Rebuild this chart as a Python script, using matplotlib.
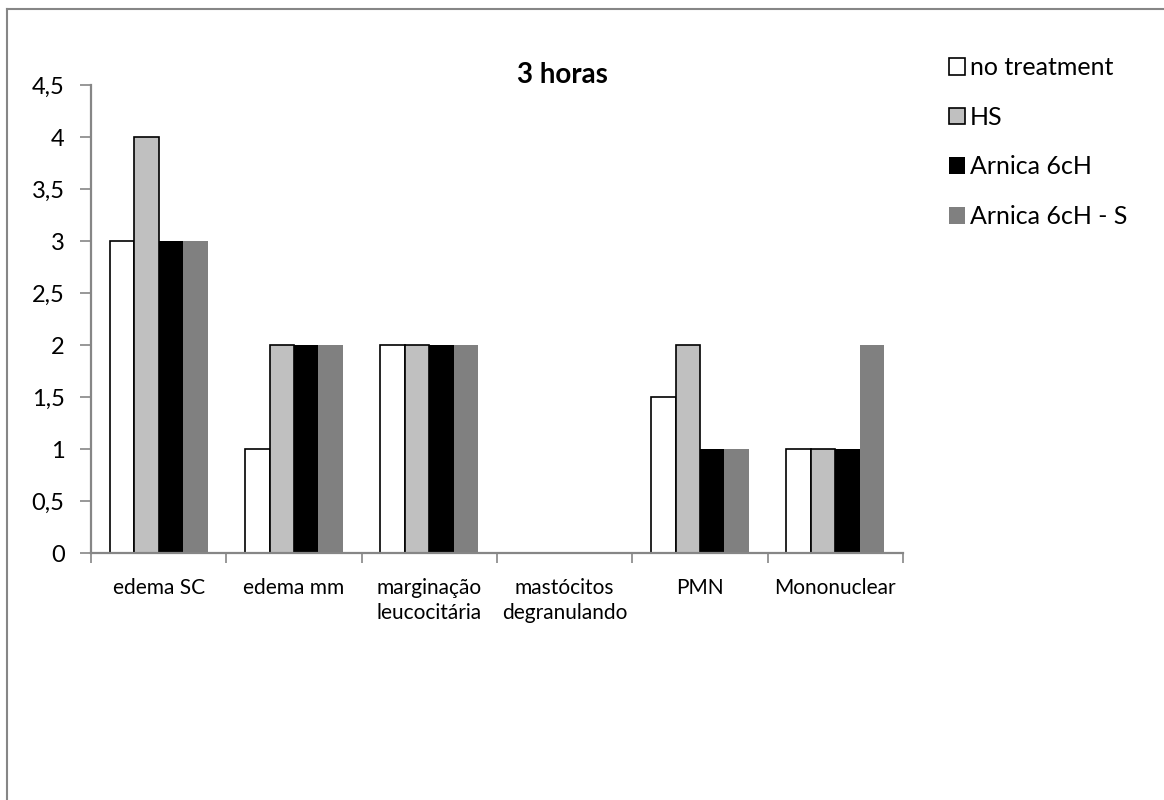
import numpy as np
import matplotlib.pyplot as plt
from matplotlib.lines import Line2D
from matplotlib.ticker import FuncFormatter

plt.rcParams['font.family'] = ['Lato', 'DejaVu Sans']

# ============================
# DADOS
# ============================
categorias = ["edema SC", "edema mm", "marginação\nleucocitária",
              "mastócitos\ndegranulando", "PMN", "Mononuclear"]
series = ["no treatment", "HS", "Arnica 6cH", "Arnica 6cH - S"]
no_treatment = [3, 1, 2, 0, 1.5, 1]
hs = [4, 2, 2, 0, 2, 1]
arnica = [3, 2, 2, 0, 1, 1]
arnica_s = [3, 2, 2, 0, 1, 2]
valores = [no_treatment, hs, arnica, arnica_s]

cores = ["#FFFFFF", "#C0C0C0", "#000000", "#808080"]
bordas = ["#000000", "#000000", "none", "none"]

# ============================
# FIGURA
# ============================
fig = plt.figure(figsize=(11.64, 8.0), dpi=100)
ax = fig.add_axes([91/1164, 1 - 553/800, (903 - 91)/1164, (553 - 85)/800])

x = np.arange(len(categorias))
w = 0.181
for i, (vals, c, b) in enumerate(zip(valores, cores, bordas)):
    ax.bar(x + (i - 1.5) * w, vals, width=w, color=c, edgecolor=b,
           linewidth=1.2, label=series[i], zorder=1)

ax.set_xlim(-0.5, len(categorias) - 0.5)
ax.set_ylim(0, 4.5)
ax.set_yticks(np.arange(0, 4.51, 0.5))
ax.yaxis.set_major_formatter(FuncFormatter(lambda v, p: f"{v:g}".replace(".", ",")))

ax.set_xticks(x)
ax.set_xticklabels(categorias, fontsize=15, linespacing=1.3)
ax.set_xticks(np.arange(-0.5, len(categorias)), minor=True)
ax.tick_params(axis='x', which='major', length=0, pad=18)
ax.tick_params(axis='x', which='minor', length=7, color="#868686", width=1.2)
ax.tick_params(axis='y', length=8, color="#868686", width=1.2, labelsize=17, pad=11)

for s in ["top", "right"]:
    ax.spines[s].set_visible(False)
for s in ["left", "bottom"]:
    ax.spines[s].set_color("#868686")
    ax.spines[s].set_linewidth(1.6)
    ax.spines[s].set_zorder(5)

fig.text(562/1164, 1 - 75/800, "3 horas", fontsize=20, fontweight="bold",
         ha="center", va="center")

fig.legend(loc="upper left", bbox_to_anchor=(939/1164, 1 - 46/800),
           frameon=False, fontsize=18, handlelength=0.65, handleheight=0.65,
           handletextpad=0.2, labelspacing=1.07, borderaxespad=0)

# moldura do gráfico (apenas topo e esquerda visíveis)
fig.add_artist(Line2D([7/1164, 1], [1 - 9/800, 1 - 9/800], color="#868686", lw=1.5))
fig.add_artist(Line2D([7/1164, 7/1164], [0, 1 - 9/800], color="#868686", lw=1.5))

fig.savefig("out.png", dpi=100)
